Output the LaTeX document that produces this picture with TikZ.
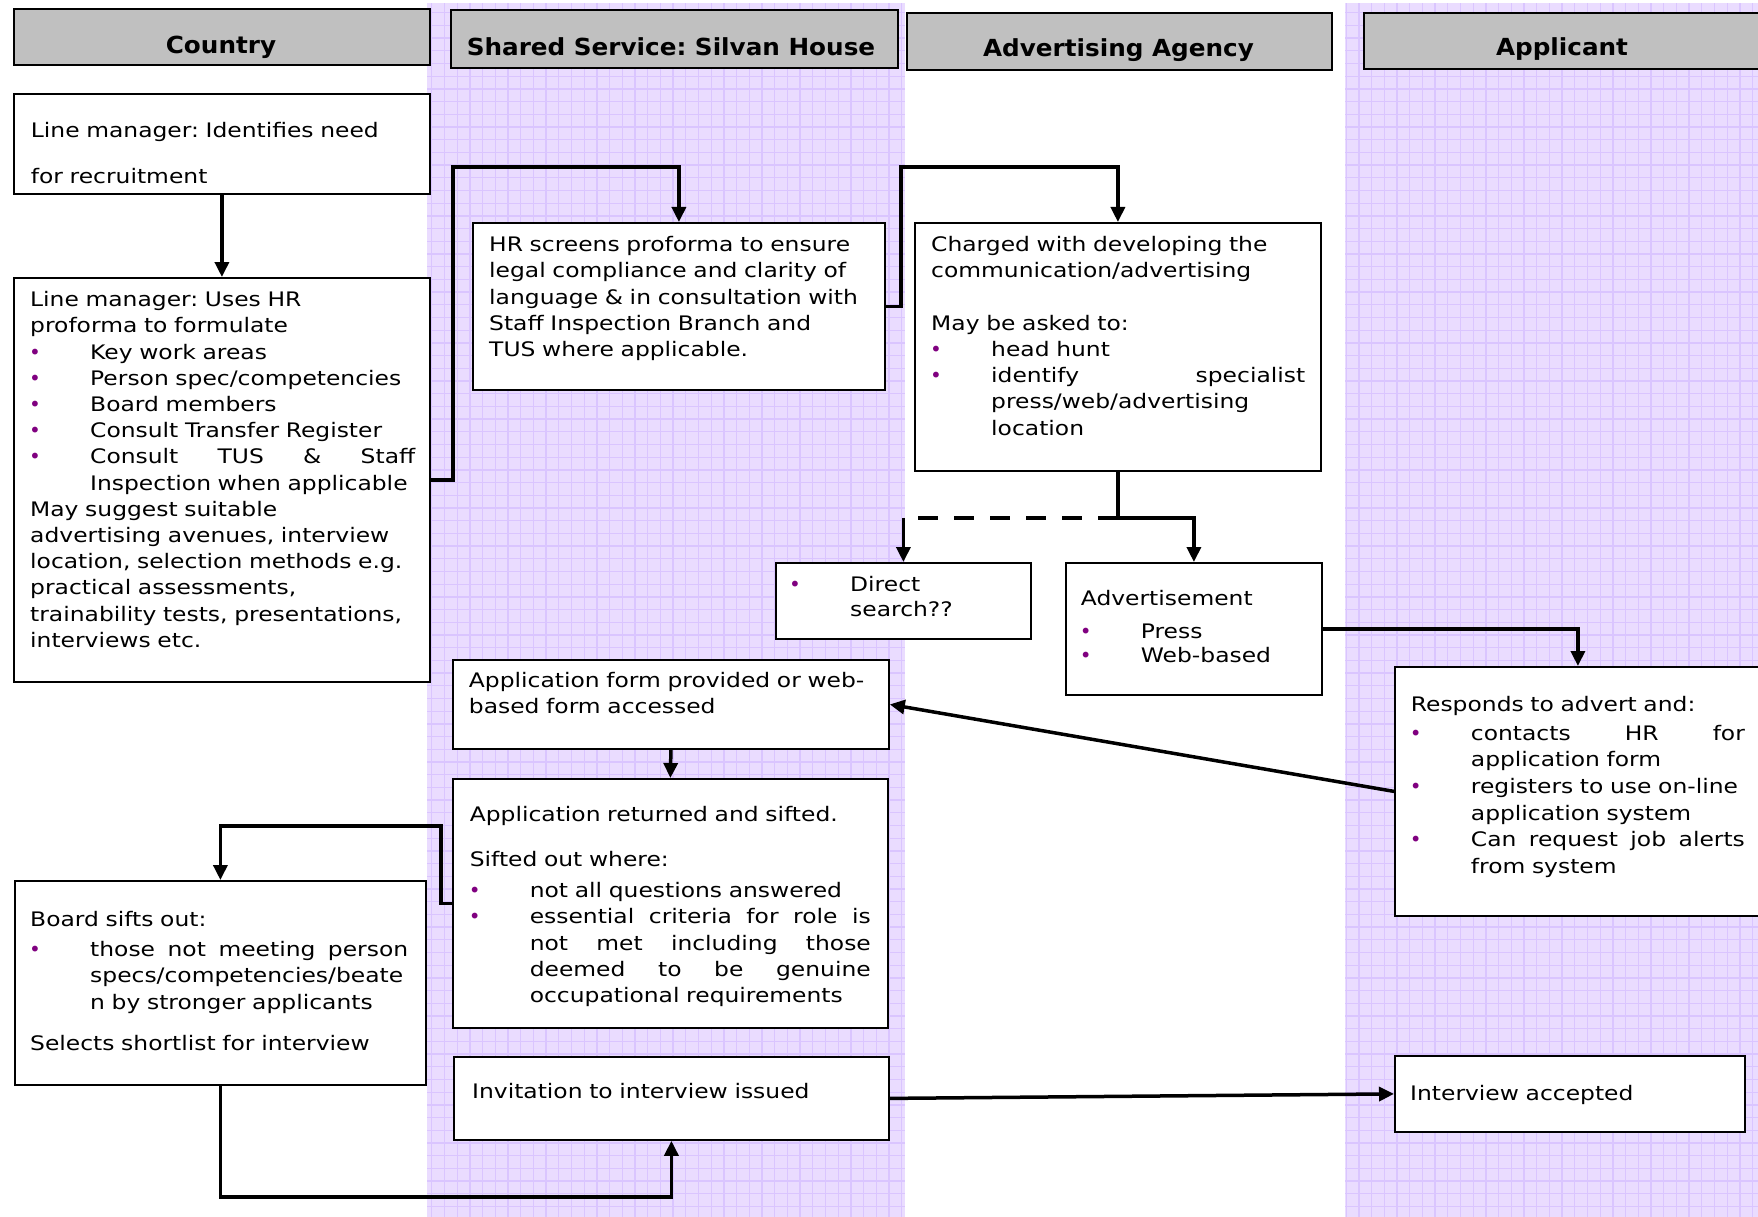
\documentclass[tikz,border=0pt]{standalone}
\usepackage{fontspec}
\setmainfont{DejaVu Sans}[FakeStretch=1.17]
\newfontfamily\hdfont{DejaVu Sans}[FakeStretch=1.05]
\newfontfamily\bulfont{DejaVu Sans}
\usetikzlibrary{arrows.meta,calc}
\definecolor{bulc}{HTML}{800080}
\definecolor{hdgray}{HTML}{C0C0C0}
\definecolor{lanebg}{HTML}{EADCFF}
\definecolor{lanegrid}{HTML}{DAC5FF}
\newcommand\bu{\makebox[60pt][l]{\hspace{-1pt}{\bulfont\textcolor{bulc}{•}}}}
\newcommand\ind{\hspace*{60pt}}
\newcommand\jst[2]{\hbox to #1{#2}}
\tikzset{
  box/.style={draw=black, line width=1.8pt, fill=white, inner sep=0pt, anchor=north west},
  hdr/.style={draw=black, line width=1.8pt, fill=hdgray, inner sep=0pt, anchor=north west},
  hdtxt/.style={inner sep=0pt, anchor=base, font=\frenchspacing\hdfont\bfseries\fontsize{23.5}{28}\selectfont},
  txt/.style={inner sep=0pt, anchor=base west, text width=440pt, font=\frenchspacing\fontsize{20}{26.2}\selectfont},
  conn/.style={line width=3.5pt, -{Triangle[length=15pt,width=14pt]}},
  dashline/.style={line width=3.5pt, dash pattern=on 20pt off 16pt},
}
\newcommand\boxat[6]{\node[#6, minimum width={#4-#2}, minimum height={#5-#3}] (#1) at (#2,#3) {};}
\begin{document}
\frenchspacing
\begin{tikzpicture}[x=1pt,y=-1pt]
\useasboundingbox (0,0) rectangle (1758,1217);
\fill[white] (0,0) rectangle (1758,1217);
% lanes
\fill[lanebg] (427,3) rectangle (905,1217);
\fill[lanebg] (1345,3) rectangle (1758,1217);
\draw[lanegrid, line width=1.3pt, step=12.7pt] (427,3) grid (905,1217);
\draw[lanegrid, line width=1.3pt, step=12.7pt] (1345,3) grid (1758,1217);
% headers
\boxat{h1}{13}{8}{429}{64}{hdr}
\boxat{h2}{450}{9}{897}{67}{hdr}
\boxat{h3}{906}{12}{1331}{69}{hdr}
\boxat{h4}{1363}{12}{1765}{68}{hdr}
\node[hdtxt] (h1t) at (221,53.3) {Country};
\node[hdtxt] (h2t) at (671,56) {Shared Service: Silvan House};
\node[hdtxt] (h3t) at (1118.5,56.7) {Advertising Agency};
\node[hdtxt] (h4t) at (1562,56) {Applicant};
% boxes
\boxat{b1}{13}{93}{429}{193}{box}
\boxat{b2}{13}{277}{429}{681}{box}
\boxat{b3}{472}{222}{884}{389}{box}
\boxat{b4}{914}{222}{1320}{470}{box}
\boxat{b5}{775}{562}{1030}{638}{box}
\boxat{b6}{1065}{562}{1321}{694}{box}
\boxat{b7}{452}{659}{888}{748}{box}
\boxat{b8}{452}{778}{887}{1027}{box}
\boxat{b9}{14}{880}{425}{1084}{box}
\boxat{b10}{453}{1056}{888}{1139}{box}
\boxat{b11}{1394}{666}{1760}{915}{box}
\boxat{b12}{1394}{1055}{1744}{1131}{box}
% texts
\node[txt] (t1) at (30.7,137.3) {Line manager: Identifies need\\[19.8pt]
for recruitment};
\node[txt] (t2) at (30,306.7) {Line manager: Uses HR\\
proforma to formulate\\
\bu Key work areas\\
\bu Person spec/competencies\\
\bu Board members\\
\bu Consult Transfer Register\\
\bu \jst{325pt}{Consult\hfill TUS\hfill \&\hfill Staff}\\
\ind Inspection when applicable\\
May suggest suitable\\
advertising avenues, interview\\
location, selection methods e.g.\\
practical assessments,\\
trainability tests, presentations,\\
interviews etc.};
\node[txt] (t3) at (489,251.7) {HR screens proforma to ensure\\
legal compliance and clarity of\\
language \& in consultation with\\
Staff Inspection Branch and\\
TUS where applicable.};
\node[txt] (t4) at (931,251.7) {Charged with developing the\\
communication/advertising\\[26.2pt]
May be asked to:\\
\bu head hunt\\
\bu \jst{314pt}{identify\hfill specialist}\\
\ind press/web/advertising\\
\ind location};
\node[txt] (t5) at (790,591.7) {\bu Direct\\[-1.2pt]
\ind search??};
\node[txt] (t6) at (1080.7,605.7) {Advertisement\\[6.4pt]
\bu Press\\[-1.8pt]
\bu Web-based};
\node[txt] (t7) at (468.7,687) {Application form provided or web-\\
based form accessed};
\node[txt] (t8) at (469.6,821.7) {Application returned and sifted.\\[18.8pt]
Sifted out where:\\[4.8pt]
\bu not all questions answered\\
\bu \jst{341pt}{essential\hfill criteria\hfill for\hfill role\hfill is}\\
\ind\jst{341pt}{not\hfill met\hfill including\hfill those}\\
\ind\jst{341pt}{deemed\hfill to\hfill be\hfill genuine}\\
\ind occupational requirements};
\node[txt] (t9) at (30,926.7) {Board sifts out:\\[3.8pt]
\bu \jst{318pt}{those\hfill not\hfill meeting\hfill person}\\
\ind specs/competencies/beate\\
\ind n by stronger applicants\\[15.5pt]
Selects shortlist for interview};
\node[txt] (t10) at (472,1098.3) {Invitation to interview issued};
\node[txt] (t11) at (1410.7,711) {Responds to advert and:\\[2.8pt]
\bu \jst{274pt}{contacts\hfill HR\hfill for}\\[0.5pt]
\ind application form\\[0.5pt]
\bu registers to use on-line\\[0.5pt]
\ind application system\\[0.5pt]
\bu \jst{274pt}{Can\hfill request\hfill job\hfill alerts}\\[0.5pt]
\ind from system};
\node[txt] (t12) at (1410,1100) {Interview accepted};
% connectors
\draw[conn] (b1.south) -- (b2.north);
\draw[conn] (b2.east) -- ++(22,0) |- ($(b3.north)+(0,-55)$) -- (b3.north);
\draw[conn] (b3.east) -- ++(15,0) |- ($(b4.north)+(0,-55)$) -- (b4.north);
\coordinate (br) at ($(b4.south)+(0,46)$);
\coordinate (brl) at (br -| b5.north);
\draw[dashline] (br) -- (brl);
\draw[conn] (b4.south) -- (br) -| (b6.north);
\draw[conn] (brl) -- (b5.north);
\draw[conn] (b6.east) -| (b11.north);
\draw[conn] (b11.west) -- (b7.east);
\draw[conn] (b7.south) -- (b8.north);
\draw[conn] (b8.west) -- ++(-11,0) |- ($(b9.north)+(0,-54)$) -- (b9.north);
\draw[conn] (b9.south) -- ++(0,111) -| (b10.south);
\draw[conn] (b10.east) -- (b12.west);
\end{tikzpicture}
\end{document}
